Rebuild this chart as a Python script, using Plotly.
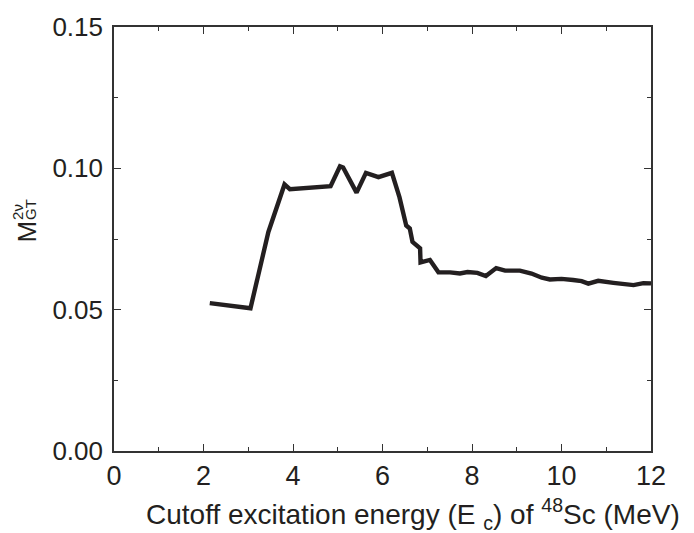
import plotly.graph_objects as go

# Cutoff excitation energy E_c (MeV) and running GT matrix element
energy = [2.14, 3.05, 3.45, 3.81, 3.93, 4.84, 5.05, 5.12, 5.42, 5.63, 5.91, 6.21,
          6.38, 6.53, 6.61, 6.67, 6.84, 6.85, 7.06, 7.25, 7.51, 7.73, 7.90, 8.12,
          8.31, 8.54, 8.74, 9.07, 9.33, 9.56, 9.74, 10.00, 10.26, 10.45, 10.60,
          10.82, 11.16, 11.46, 11.61, 11.83, 12.00]
m_gt = [0.0523, 0.0505, 0.0775, 0.0943, 0.0926, 0.0937, 0.1007, 0.1003, 0.0914,
        0.0984, 0.0969, 0.0984, 0.0897, 0.0798, 0.0787, 0.0740, 0.0717, 0.0667,
        0.0676, 0.0632, 0.0632, 0.0628, 0.0633, 0.0630, 0.0619, 0.0647, 0.0638,
        0.0638, 0.0628, 0.0613, 0.0607, 0.0609, 0.0605, 0.0601, 0.0592, 0.0602,
        0.0595, 0.0589, 0.0587, 0.0594, 0.0593]

FONT = "Liberation Sans, Arial, sans-serif"
INK = "#231f20"
AXIS = "#333333"

fig = go.Figure(go.Scatter(x=energy, y=m_gt, mode="lines",
                           line=dict(color=INK, width=4.4), showlegend=False))

axis_common = dict(
    showgrid=False, zeroline=False, showline=True, linecolor=AXIS,
    linewidth=1.6, mirror="ticks", ticks="inside", ticklen=7, tickwidth=1.4,
    tickcolor=AXIS,
)
fig.update_xaxes(range=[0, 12], dtick=2, tick0=0,
                 tickfont=dict(family=FONT, size=27, color=INK),
                 minor=dict(dtick=1, ticks="inside", ticklen=4, tickcolor=AXIS, tickwidth=1.2),
                 **axis_common)
fig.update_yaxes(range=[0, 0.15], dtick=0.05, tick0=0, tickformat=".2f",
                 tickfont=dict(family=FONT, size=26, color=INK), ticklabelstandoff=4,
                 minor=dict(dtick=0.025, ticks="inside", ticklen=4, tickcolor=AXIS, tickwidth=1.2),
                 **axis_common)

L, T, R, B = 114, 20, 43, 82
PW, PH = 694 - L - R, 533 - T - B
fig.update_layout(
    width=694, height=533, margin=dict(l=L, r=R, t=T, b=B),
    paper_bgcolor="white", plot_bgcolor="white",
    font=dict(family=FONT, color=INK),
)

# x-axis title
fig.add_annotation(
    text="Cutoff excitation energy (E <sub>c</sub>) of <sup>48</sup>Sc (MeV)",
    xref="paper", yref="paper", x=(413 - L) / PW, y=0,
    yshift=-(514 - 451), xanchor="center", yanchor="middle",
    showarrow=False, font=dict(family=FONT, size=28, color=INK),
)
# y-axis title: M with stacked 2ν / GT
ylab = dict(xref="paper", yref="paper", x=0, textangle=-90, showarrow=False,
            xanchor="center", yanchor="middle")
fig.add_annotation(text="M", y=(451 - 228) / PH, xshift=27 - L,
                   font=dict(family=FONT, size=26, color=INK), **ylab)
fig.add_annotation(text="2ν", y=(451 - 208) / PH, xshift=18 - L,
                   font=dict(family=FONT, size=15, color=INK), **ylab)
fig.add_annotation(text="GT", y=(451 - 206) / PH, xshift=31 - L,
                   font=dict(family=FONT, size=15, color=INK), **ylab)

fig.write_html("out.html")
